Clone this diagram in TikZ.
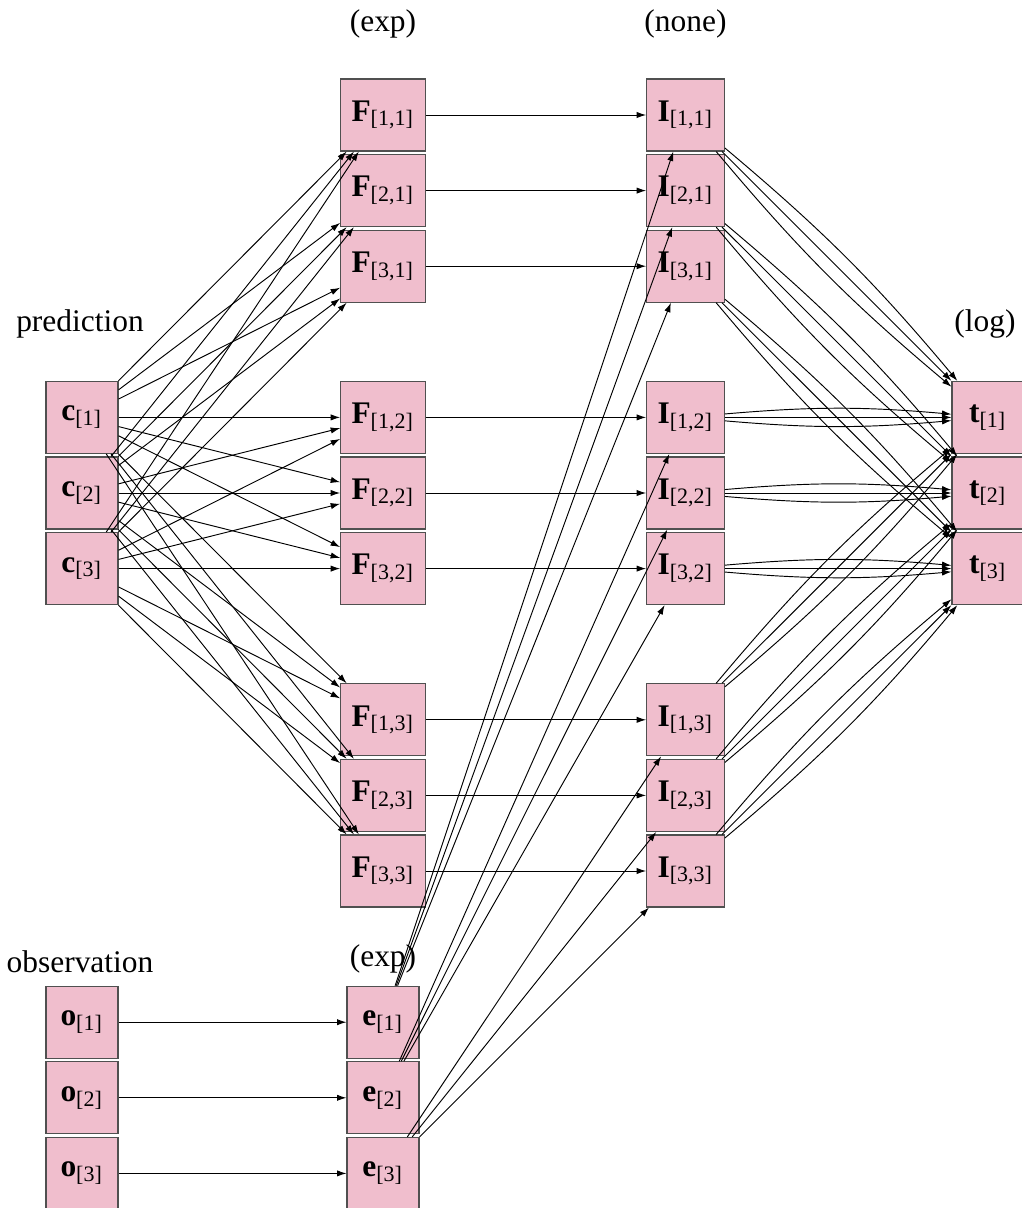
\documentclass[tikz,border=0pt]{standalone}
\usepackage{fontspec}
\setmainfont{Liberation Serif}
\usetikzlibrary{arrows.meta}
\definecolor{cellpink}{RGB}{240,190,205}
\definecolor{cellrim}{RGB}{80,80,80}

\begin{document}
\begin{tikzpicture}[x=0.318pt,y=0.318pt,
	unit/.style={draw=cellrim,fill=cellpink,line width=0.35pt,minimum width=22.9pt,minimum height=22.9pt,inner xsep=3.45pt,inner ysep=0pt},
	link/.style={-{Latex[length=3pt,width=2pt]},line width=0.3pt},
	tag/.style={anchor=base,inner sep=0pt}]
	\useasboundingbox (0,0) rectangle (1022,-1208);
	% layer labels
	\node [tag] (tagF) at (383,-32) {(exp)};
	\node [tag] (tagI) at (685.5,-32) {(none)};
	\node [tag] (tagc) at (80,-331) {prediction};
	\node [tag] (tagt) at (985,-331) {(log)};
	\node [tag] (tago) at (80,-972) {observation};
	\node [tag] (tage) at (383,-966) {(exp)};
	% prediction
	\node [unit] (c1) at (82,-417.4) {\textbf{c}\textsubscript{[1]}};
	\node [unit] (c2) at (82,-493) {\textbf{c}\textsubscript{[2]}};
	\node [unit] (c3) at (82,-568.6) {\textbf{c}\textsubscript{[3]}};
	% exp layer
	\node [unit] (F11) at (383,-115) {\textbf{F}\textsubscript{[1,1]}};
	\node [unit] (F21) at (383,-190.6) {\textbf{F}\textsubscript{[2,1]}};
	\node [unit] (F31) at (383,-266.2) {\textbf{F}\textsubscript{[3,1]}};
	\node [unit] (F12) at (383,-417.4) {\textbf{F}\textsubscript{[1,2]}};
	\node [unit] (F22) at (383,-493) {\textbf{F}\textsubscript{[2,2]}};
	\node [unit] (F32) at (383,-568.6) {\textbf{F}\textsubscript{[3,2]}};
	\node [unit] (F13) at (383,-719.8) {\textbf{F}\textsubscript{[1,3]}};
	\node [unit] (F23) at (383,-795.4) {\textbf{F}\textsubscript{[2,3]}};
	\node [unit] (F33) at (383,-871) {\textbf{F}\textsubscript{[3,3]}};
	% none layer
	\node [unit] (I11) at (685.5,-115) {\textbf{I}\textsubscript{[1,1]}};
	\node [unit] (I21) at (685.5,-190.6) {\textbf{I}\textsubscript{[2,1]}};
	\node [unit] (I31) at (685.5,-266.2) {\textbf{I}\textsubscript{[3,1]}};
	\node [unit] (I12) at (685.5,-417.4) {\textbf{I}\textsubscript{[1,2]}};
	\node [unit] (I22) at (685.5,-493) {\textbf{I}\textsubscript{[2,2]}};
	\node [unit] (I32) at (685.5,-568.6) {\textbf{I}\textsubscript{[3,2]}};
	\node [unit] (I13) at (685.5,-719.8) {\textbf{I}\textsubscript{[1,3]}};
	\node [unit] (I23) at (685.5,-795.4) {\textbf{I}\textsubscript{[2,3]}};
	\node [unit] (I33) at (685.5,-871) {\textbf{I}\textsubscript{[3,3]}};
	% log layer
	\node [unit] (t1) at (988,-417.4) {\textbf{t}\textsubscript{[1]}};
	\node [unit] (t2) at (988,-493) {\textbf{t}\textsubscript{[2]}};
	\node [unit] (t3) at (988,-568.6) {\textbf{t}\textsubscript{[3]}};
	% observation
	\node [unit] (o1) at (82,-1022.2) {\textbf{o}\textsubscript{[1]}};
	\node [unit] (o2) at (82,-1097.8) {\textbf{o}\textsubscript{[2]}};
	\node [unit] (o3) at (82,-1173.4) {\textbf{o}\textsubscript{[3]}};
	\node [unit] (e1) at (383,-1022.2) {\textbf{e}\textsubscript{[1]}};
	\node [unit] (e2) at (383,-1097.8) {\textbf{e}\textsubscript{[2]}};
	\node [unit] (e3) at (383,-1173.4) {\textbf{e}\textsubscript{[3]}};
	% c -> F
	\draw [link] (c1) -- (F11); \draw [link] (c2) -- (F11); \draw [link] (c3) -- (F11);
	\draw [link] (c1) -- (F21); \draw [link] (c2) -- (F21); \draw [link] (c3) -- (F21);
	\draw [link] (c1) -- (F31); \draw [link] (c2) -- (F31); \draw [link] (c3) -- (F31);
	\draw [link] (c1) -- (F12); \draw [link] (c2) -- (F12); \draw [link] (c3) -- (F12);
	\draw [link] (c1) -- (F22); \draw [link] (c2) -- (F22); \draw [link] (c3) -- (F22);
	\draw [link] (c1) -- (F32); \draw [link] (c2) -- (F32); \draw [link] (c3) -- (F32);
	\draw [link] (c1) -- (F13); \draw [link] (c2) -- (F13); \draw [link] (c3) -- (F13);
	\draw [link] (c1) -- (F23); \draw [link] (c2) -- (F23); \draw [link] (c3) -- (F23);
	\draw [link] (c1) -- (F33); \draw [link] (c2) -- (F33); \draw [link] (c3) -- (F33);
	% F -> I
	\draw [link] (F11) -- (I11); \draw [link] (F21) -- (I21); \draw [link] (F31) -- (I31);
	\draw [link] (F12) -- (I12); \draw [link] (F22) -- (I22); \draw [link] (F32) -- (I32);
	\draw [link] (F13) -- (I13); \draw [link] (F23) -- (I23); \draw [link] (F33) -- (I33);
	% o -> e -> I
	\draw [link] (o1) -- (e1); \draw [link] (o2) -- (e2); \draw [link] (o3) -- (e3);
	\draw [link] (e1) -- (I11); \draw [link] (e1) -- (I21); \draw [link] (e1) -- (I31);
	\draw [link] (e2) -- (I12); \draw [link] (e2) -- (I22); \draw [link] (e2) -- (I32);
	\draw [link] (e3) -- (I13); \draw [link] (e3) -- (I23); \draw [link] (e3) -- (I33);
	% I -> t
	\draw [link] (I11) -- (t1); \draw [link] (I11) to [bend left=5] (t1); \draw [link] (I11) to [bend right=5] (t1);
	\draw [link] (I21) -- (t2); \draw [link] (I21) to [bend left=5] (t2); \draw [link] (I21) to [bend right=5] (t2);
	\draw [link] (I31) -- (t3); \draw [link] (I31) to [bend left=5] (t3); \draw [link] (I31) to [bend right=5] (t3);
	\draw [link] (I12) -- (t1); \draw [link] (I12) to [bend left=5] (t1); \draw [link] (I12) to [bend right=5] (t1);
	\draw [link] (I22) -- (t2); \draw [link] (I22) to [bend left=5] (t2); \draw [link] (I22) to [bend right=5] (t2);
	\draw [link] (I32) -- (t3); \draw [link] (I32) to [bend left=5] (t3); \draw [link] (I32) to [bend right=5] (t3);
	\draw [link] (I13) -- (t1); \draw [link] (I13) to [bend left=5] (t1); \draw [link] (I13) to [bend right=5] (t1);
	\draw [link] (I23) -- (t2); \draw [link] (I23) to [bend left=5] (t2); \draw [link] (I23) to [bend right=5] (t2);
	\draw [link] (I33) -- (t3); \draw [link] (I33) to [bend left=5] (t3); \draw [link] (I33) to [bend right=5] (t3);
\end{tikzpicture}
\end{document}
